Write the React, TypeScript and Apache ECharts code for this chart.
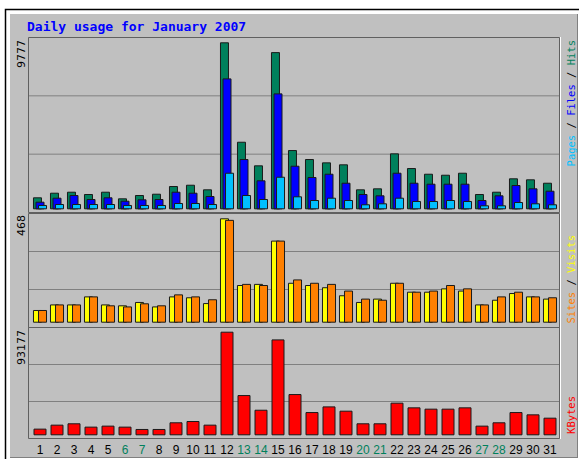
import React, { useEffect, useRef } from 'react';
import * as echarts from 'echarts';

const days = ['1','2','3','4','5','6','7','8','9','10','11','12','13','14','15','16','17','18','19','20','21','22','23','24','25','26','27','28','29','30','31'];
const weekendDays = ['6','7','13','14','20','21','27','28'];

const hits = [702, 971, 1030, 895, 1030, 643, 837, 913, 1363, 1439, 1170, 9777, 3955, 2574, 9202, 3469, 2943, 2749, 2633, 1170, 1228, 3276, 2416, 2083, 2024, 2141, 895, 1030, 1814, 1755, 1556];
const files = [445, 679, 837, 603, 702, 503, 585, 603, 1030, 971, 778, 7664, 2943, 1697, 6786, 2551, 1890, 2083, 1556, 895, 819, 2141, 1556, 1498, 1498, 1498, 544, 819, 1422, 1228, 1088];
const pages = [253, 310, 310, 310, 310, 253, 253, 253, 369, 369, 310, 2141, 837, 603, 1907, 760, 544, 679, 544, 293, 351, 679, 486, 486, 544, 486, 234, 234, 427, 351, 293];
const visits = [57, 82, 82, 118, 82, 78, 93, 73, 118, 114, 88, 468, 169, 174, 368, 179, 169, 159, 123, 93, 108, 179, 139, 139, 154, 144, 82, 103, 133, 118, 108];
const sites = [57, 82, 82, 118, 78, 73, 87, 78, 127, 118, 105, 461, 174, 169, 368, 194, 179, 174, 144, 108, 103, 179, 139, 144, 169, 154, 82, 118, 139, 118, 114];
const kbytes = [6000, 9580, 10800, 7800, 8700, 7800, 5690, 5690, 11700, 12850, 9580, 93177, 36200, 23000, 86250, 37100, 20900, 26000, 22150, 10800, 10800, 29350, 25150, 23950, 23950, 25150, 8700, 11700, 20900, 18850, 15850];

const title = 'Daily usage for January 2007';

const C = {
  hits: '#00805C',
  files: '#0000FF',
  pages: '#00C0FF',
  visits: '#FFFF00',
  sites: '#FF8000',
  kbytes: '#FF0000',
  bg: '#C0C0C0',
  grid: '#808080',
  frame: '#606060',
};

const maxHits = Math.max(...hits);
const maxVisits = Math.max(...visits);
const maxKbytes = Math.max(...kbytes);

const MONO = '"DejaVu Sans Mono", monospace';
const SANS = '"DejaVu Sans", sans-serif';
const LIB = '"Liberation Sans", Arial, sans-serif';

function barStyle(color: string) {
  return { color, borderColor: '#1a1a1a', borderWidth: 1 };
}

function frame(y: number, h: number) {
  return [
    { type: 'rect', z: 1, silent: true, shape: { x: 28.5, y: y + 0.5, width: 531, height: h }, style: { fill: 'none', stroke: C.frame, lineWidth: 1 } },
    { type: 'line', z: 1, silent: true, shape: { x1: 29, y1: y + h / 3 + 0.5, x2: 559, y2: y + h / 3 + 0.5 }, style: { stroke: C.grid, lineWidth: 1 } },
    { type: 'line', z: 1, silent: true, shape: { x1: 29, y1: y + (2 * h) / 3 + 0.5, x2: 559, y2: y + (2 * h) / 3 + 0.5 }, style: { stroke: C.grid, lineWidth: 1 } },
    { type: 'line', z: 1, silent: true, shape: { x1: 560.5, y1: y, x2: 560.5, y2: y + h + 1 }, style: { stroke: '#ffffff', lineWidth: 1 } },
  ];
}

function sideLabel(x: number, y: number, parts: Array<[string, string]>) {
  const rich: Record<string, any> = {};
  let text = '';
  parts.forEach(([t, col], i) => {
    rich['p' + i] = { fill: col, font: '10.5px ' + MONO };
    text += '{p' + i + '|' + t + '}';
  });
  return {
    type: 'text', z: 10, silent: true, x, y, rotation: Math.PI / 2,
    style: { text, rich, font: '10.5px ' + MONO, align: 'right', verticalAlign: 'middle' },
  };
}

function leftLabel(y: number, value: number) {
  return {
    type: 'text', z: 10, silent: true, x: 21, y, rotation: Math.PI / 2,
    style: { text: String(value), fill: '#000', font: '11px ' + SANS, align: 'right', verticalAlign: 'middle' },
  };
}

const GRID_LEFT = 31.5;
const GRID_W = 527;

const option: any = {
  animation: false,
  backgroundColor: '#ffffff',
  graphic: [
    { type: 'rect', z: 0, silent: true, shape: { x: 5.5, y: 9.5, width: 600, height: 500 }, style: { fill: '#ffffff', stroke: '#000', lineWidth: 1.5 } },
    { type: 'rect', z: 0, silent: true, shape: { x: 10, y: 14, width: 567, height: 443 }, style: { fill: C.bg } },
    { type: 'line', z: 0, silent: true, shape: { x1: 10, y1: 457.5, x2: 577, y2: 457.5 }, style: { stroke: '#808080', lineWidth: 1 } },
    { type: 'line', z: 0, silent: true, shape: { x1: 577.5, y1: 14, x2: 577.5, y2: 458 }, style: { stroke: '#808080', lineWidth: 1 } },
    ...frame(37, 175),
    ...frame(213, 114),
    ...frame(327, 111),
    {
      type: 'text', z: 10, silent: true, x: 27, y: 26,
      style: { text: title, fill: '#0000FF', font: 'bold 13px ' + MONO, align: 'left', verticalAlign: 'middle' },
    },
    leftLabel(40, maxHits),
    leftLabel(215, maxVisits),
    leftLabel(330, maxKbytes),
    sideLabel(571, 40, [['Pages', C.pages], [' / ', '#000'], ['Files', C.files], [' / ', '#000'], ['Hits', C.hits]]),
    sideLabel(571, 235, [['Sites', C.sites], [' / ', '#000'], ['Visits', C.visits]]),
    sideLabel(571, 396, [['KBytes', C.kbytes]]),
  ],
  grid: [
    { left: GRID_LEFT, width: GRID_W, top: 42.3, height: 167 },
    { left: GRID_LEFT, width: GRID_W, top: 218.3, height: 104.4 },
    { left: GRID_LEFT, width: GRID_W, top: 331.7, height: 103.6 },
  ],
  xAxis: [0, 1, 2].map((i) => ({
    type: 'category',
    gridIndex: i,
    data: days,
    axisLine: { show: false },
    axisTick: { show: false },
    splitLine: { show: false },
    axisLabel: i === 2
      ? {
          show: true,
          interval: 0,
          margin: 9,
          fontFamily: LIB,
          fontSize: 12,
          color: (v: string) => (weekendDays.includes(v) ? C.hits : '#000'),
        }
      : { show: false },
  })),
  yAxis: [
    { type: 'value', gridIndex: 0, min: 0, max: maxHits, show: false, splitLine: { show: false } },
    { type: 'value', gridIndex: 1, min: 0, max: maxVisits, show: false, splitLine: { show: false } },
    { type: 'value', gridIndex: 2, min: 0, max: maxKbytes, show: false, splitLine: { show: false } },
  ],
  series: [
    { name: 'Hits', type: 'bar', xAxisIndex: 0, yAxisIndex: 0, data: hits, barWidth: 9, barGap: '-72%', itemStyle: barStyle(C.hits), z: 3 },
    { name: 'Files', type: 'bar', xAxisIndex: 0, yAxisIndex: 0, data: files, barWidth: 9, barGap: '-72%', itemStyle: barStyle(C.files), z: 4 },
    { name: 'Pages', type: 'bar', xAxisIndex: 0, yAxisIndex: 0, data: pages, barWidth: 9, barGap: '-72%', itemStyle: barStyle(C.pages), z: 5 },
    { name: 'Visits', type: 'bar', xAxisIndex: 1, yAxisIndex: 1, data: visits, barWidth: 9, barGap: '-44%', itemStyle: barStyle(C.visits), z: 3 },
    { name: 'Sites', type: 'bar', xAxisIndex: 1, yAxisIndex: 1, data: sites, barWidth: 9, barGap: '-44%', itemStyle: barStyle(C.sites), z: 4 },
    { name: 'KBytes', type: 'bar', xAxisIndex: 2, yAxisIndex: 2, data: kbytes, barWidth: 13, itemStyle: barStyle(C.kbytes), z: 3 },
  ],
};

export default function App() {
  const ref = useRef<HTMLDivElement>(null);
  useEffect(() => {
    const chart = echarts.init(ref.current as HTMLDivElement, null, { renderer: 'svg' });
    chart.setOption(option);
    return () => chart.dispose();
  }, []);
  return <div ref={ref} style={{ position: 'absolute', left: 0, top: 0, width: 579, height: 459 }} />;
}
